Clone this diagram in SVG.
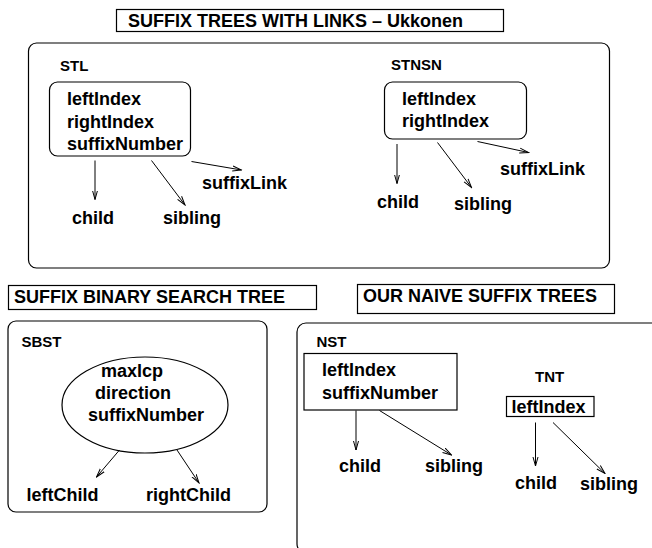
<svg xmlns="http://www.w3.org/2000/svg" width="652" height="548" viewBox="0 0 652 548">
<style>
text{font-family:"Liberation Sans",Arial,Helvetica,sans-serif;font-weight:bold;fill:#000}
.f{font-size:18px}
.l{font-size:15px}
.box{fill:none;stroke:#000;stroke-width:1.2}
.c{fill:none;stroke:#000;stroke-width:1;marker-end:url(#ah)}
</style>
<defs>
<marker id="ah" markerWidth="10" markerHeight="8" refX="9" refY="4" orient="auto" markerUnits="userSpaceOnUse">
<path d="M0,1.5 L9,4 L0,6.5" fill="none" stroke="#000" stroke-width="1"/>
</marker>
</defs>
<rect width="652" height="548" fill="#fff"/>

<g id="title-ukkonen">
<rect class="box" x="116.5" y="9.5" width="387" height="22"/>
<text class="f" x="128" y="27">SUFFIX TREES WITH LINKS – Ukkonen</text>
</g>
<g id="container-ukkonen">
<rect class="box" x="28.5" y="43" width="581" height="225" rx="8"/>
</g>

<g id="STL">
<text class="l" x="60" y="71">STL</text>
<rect class="box" x="49.5" y="82" width="141" height="74" rx="8"/>
<text class="f" x="67" y="105">leftIndex</text>
<text class="f" x="67" y="127.5">rightIndex</text>
<text class="f" x="67" y="150">suffixNumber</text>
</g>
<g id="STL-child"><text class="f" x="72" y="224">child</text></g>
<g id="STL-sibling"><text class="f" x="163" y="224">sibling</text></g>
<g id="STL-suffixLink"><text class="f" x="202" y="189">suffixLink</text></g>

<g id="STNSN">
<text class="l" x="391" y="70">STNSN</text>
<rect class="box" x="384.5" y="82" width="142" height="57" rx="8"/>
<text class="f" x="402" y="105">leftIndex</text>
<text class="f" x="402" y="127">rightIndex</text>
</g>
<g id="STNSN-child"><text class="f" x="377" y="208">child</text></g>
<g id="STNSN-sibling"><text class="f" x="454" y="210">sibling</text></g>
<g id="STNSN-suffixLink"><text class="f" x="500" y="175">suffixLink</text></g>

<g id="title-sbst">
<rect class="box" x="8.5" y="285.5" width="308" height="24"/>
<text class="f" x="14" y="303">SUFFIX BINARY SEARCH TREE</text>
</g>
<g id="container-sbst">
<rect class="box" x="8" y="321" width="259" height="191" rx="8"/>
</g>
<g id="SBST">
<text class="l" x="21.5" y="347">SBST</text>
<ellipse class="box" cx="145" cy="405" rx="83" ry="48"/>
<text class="f" x="101" y="377">maxlcp</text>
<text class="f" x="95" y="399">direction</text>
<text class="f" x="88" y="421">suffixNumber</text>
</g>
<g id="SBST-leftChild"><text class="f" x="26.5" y="501">leftChild</text></g>
<g id="SBST-rightChild"><text class="f" x="146" y="501">rightChild</text></g>

<g id="title-naive">
<rect class="box" x="357.5" y="284.5" width="257" height="29"/>
<text class="f" x="363" y="301.5">OUR NAIVE SUFFIX TREES</text>
</g>
<g id="container-naive">
<rect class="box" x="297" y="323" width="370" height="230" rx="9"/>
</g>
<g id="NST">
<text class="l" x="316.5" y="347">NST</text>
<rect class="box" x="304" y="353.5" width="153" height="56.5"/>
<text class="f" x="322" y="376">leftIndex</text>
<text class="f" x="322" y="398.5">suffixNumber</text>
</g>
<g id="NST-child"><text class="f" x="339" y="472">child</text></g>
<g id="NST-sibling"><text class="f" x="425" y="472">sibling</text></g>

<g id="TNT">
<text class="l" x="535" y="381.5">TNT</text>
<rect class="box" x="506.5" y="396.5" width="87.5" height="20"/>
<text class="f" x="511.5" y="412.5">leftIndex</text>
</g>
<g id="TNT-child"><text class="f" x="515" y="488.5">child</text></g>
<g id="TNT-sibling"><text class="f" x="580" y="490">sibling</text></g>

<g id="connectors">
<line class="c" x1="95" y1="160.5" x2="95" y2="199.5"/>
<line class="c" x1="151.5" y1="160.5" x2="185" y2="205"/>
<line class="c" x1="191.5" y1="161.5" x2="241.5" y2="170"/>
<line class="c" x1="397" y1="144" x2="397" y2="183.5"/>
<line class="c" x1="437.5" y1="142.5" x2="471.5" y2="187.5"/>
<line class="c" x1="477.5" y1="141.5" x2="528.5" y2="152.5"/>
<line class="c" x1="119.5" y1="450" x2="96.5" y2="477"/>
<line class="c" x1="177" y1="450" x2="199" y2="483"/>
<line class="c" x1="356" y1="410.5" x2="356" y2="450"/>
<line class="c" x1="379.5" y1="410.5" x2="451.5" y2="455"/>
<line class="c" x1="535.5" y1="422.5" x2="535.5" y2="466"/>
<line class="c" x1="553" y1="422.5" x2="605" y2="473.5"/>
</g>
</svg>
